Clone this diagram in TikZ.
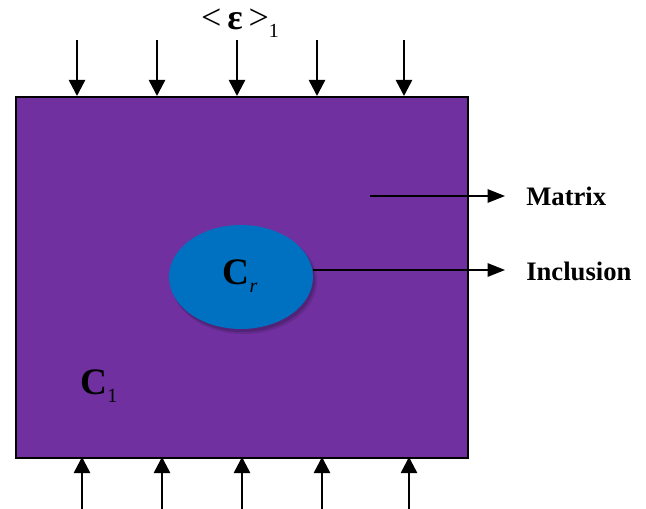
\documentclass[tikz,border=0pt]{standalone}
\usepackage{fontspec}
\setmainfont{Liberation Serif}
\usetikzlibrary{arrows.meta}
\definecolor{matrixpurple}{HTML}{7030A0}
\definecolor{inclblue}{HTML}{0070C0}
\tikzset{
  load/.style={line width=1.9pt, -{Triangle[width=12pt,length=12pt]}},
  pointer/.style={line width=1.2pt, -{Triangle[width=10pt,length=13pt]}},
  lbl/.style={font=\fontsize{20}{24}\selectfont\bfseries, anchor=west, inner sep=0pt},
  sym/.style={font=\fontsize{28}{32}\selectfont, inner sep=0pt}
}
\newcommand{\lowsub}[1]{\raisebox{-0.5ex}{\fontsize{15}{18}\selectfont #1}}
\begin{document}
\begin{tikzpicture}[x=0.75pt,y=-0.75pt]
\useasboundingbox (0,0) rectangle (646,509);
% matrix
\node[draw=black, line width=1.5pt, fill=matrixpurple, minimum width=339pt, minimum height=270.75pt, inner sep=0pt, anchor=north west] (mat) at (15,96) {};
% inclusion with soft shadow
\fill[black, opacity=0.12] (244,281) ellipse [x radius=73, y radius=53];
\fill[black, opacity=0.15] (243,280) ellipse [x radius=72, y radius=52];
\fill[inclblue] (241,277) ellipse [x radius=72, y radius=52];
\coordinate (inclE) at (313,270);
% labels
\node[sym] (Cr) at (240,276) {\textbf{C}\lowsub{\textit{r}}};
\node[sym] (C1) at (99,386) {\textbf{C}\lowsub{1}};
\node[sym, font=\fontsize{27}{30}\selectfont] (eps) at (240,23) {<\,\textbf{ε}\,>\lowsub{1}};
% pointer arrows
\coordinate (matP) at (370,196);
\node[lbl] (matL) at (526,196) {Matrix};
\node[lbl] (incL) at (526,271) {Inclusion};
\coordinate (matA) at (505,196);
\coordinate (incA) at (505,270);
\draw[pointer] (matP) -- (matA);
\draw[pointer] (inclE) -- (incA);
% top loads
\foreach \x [count=\i] in {77,157,237,317,404}{
  \coordinate (t\i) at (\x,40);
  \coordinate (tb\i) at (\x,96);
  \draw[load] (t\i) -- (tb\i);
}
% bottom loads
\foreach \x [count=\i] in {82,162,242,322,409}{
  \coordinate (b\i) at (\x,509);
  \coordinate (bb\i) at (\x,457);
  \draw[load] (b\i) -- (bb\i);
}
\end{tikzpicture}
\end{document}
